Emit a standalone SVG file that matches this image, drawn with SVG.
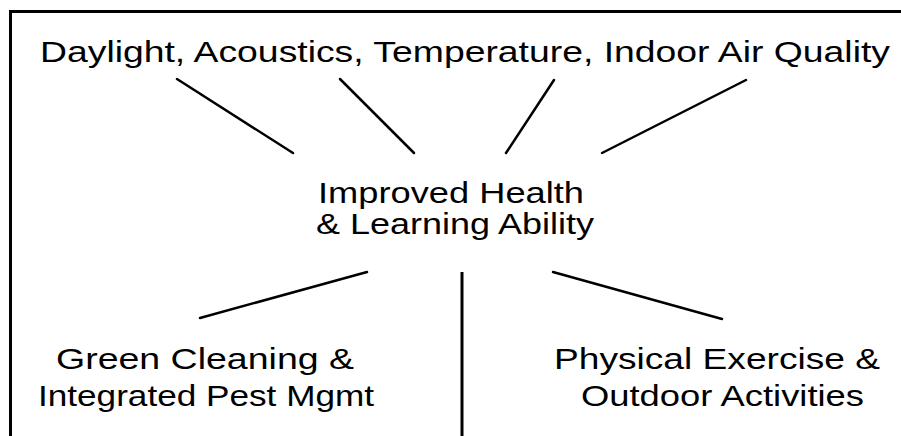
<svg xmlns="http://www.w3.org/2000/svg" width="901" height="436" viewBox="0 0 901 436">
<style>
text{font-family:"Liberation Sans",Arial,sans-serif;font-size:30px;fill:#000}
.ln{stroke:#000;stroke-width:2.5;stroke-linecap:round;fill:none}
.fr{stroke:#000;stroke-width:3;fill:none}
</style>
<rect width="901" height="436" fill="#fff"/>
<g id="frame">
<path class="fr" d="M10.5,436 V11.5 H901"/>
</g>
<g id="connectors">
<line class="ln" x1="177" y1="79" x2="293" y2="153"/>
<line class="ln" x1="340" y1="79" x2="414" y2="153"/>
<line class="ln" x1="554" y1="80" x2="506" y2="153"/>
<line class="ln" x1="746" y1="80" x2="602" y2="153"/>
<line class="ln" x1="200" y1="318" x2="367" y2="272"/>
<line class="ln" x1="553" y1="272" x2="722" y2="319"/>
<line class="fr" x1="462" y1="272" x2="462" y2="436"/>
</g>
<g id="factors">
<text x="40" y="62" textLength="850" lengthAdjust="spacingAndGlyphs">Daylight, Acoustics, Temperature, Indoor Air Quality</text>
</g>
<g id="center">
<text x="318" y="203" textLength="266" lengthAdjust="spacingAndGlyphs">Improved Health</text>
<text x="316" y="234" textLength="278" lengthAdjust="spacingAndGlyphs">&amp; Learning Ability</text>
</g>
<g id="green-cleaning">
<text x="56" y="369" textLength="298" lengthAdjust="spacingAndGlyphs">Green Cleaning &amp;</text>
<text x="38" y="406" textLength="336" lengthAdjust="spacingAndGlyphs">Integrated Pest Mgmt</text>
</g>
<g id="physical-exercise">
<text x="554" y="369" textLength="326" lengthAdjust="spacingAndGlyphs">Physical Exercise &amp;</text>
<text x="581" y="406" textLength="283" lengthAdjust="spacingAndGlyphs">Outdoor Activities</text>
</g>
</svg>
